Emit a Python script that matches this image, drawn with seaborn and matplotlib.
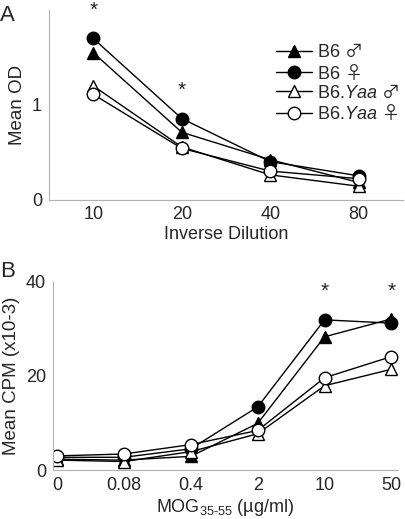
import numpy as np
import pandas as pd
import matplotlib.pyplot as plt
import seaborn as sns

sns.set_style("white")
plt.rcParams['font.family'] = ['Liberation Sans', 'DejaVu Sans']
plt.rcParams['mathtext.fontset'] = 'custom'
plt.rcParams['mathtext.rm'] = 'Liberation Sans'
plt.rcParams['mathtext.it'] = 'Liberation Sans:italic'
plt.rcParams['mathtext.sf'] = 'Noto Sans CJK JP'

# Panel A: antibody titer
dilutions = ['10', '20', '40', '80']
od_b6_male = [1.55, 0.71, 0.42, 0.18]
od_b6_female = [1.70, 0.855, 0.40, 0.25]
od_yaa_male = [1.20, 0.555, 0.26, 0.14]
od_yaa_female = [1.11, 0.54, 0.30, 0.22]
stars_a = [0, 1]

# Panel B: proliferation
mog_doses = ['0', '0.08', '0.4', '2', '10', '50']
cpm_b6_male = [2.3, 2.1, 2.9, 9.9, 28.3, 32.1]
cpm_b6_female = [2.7, 2.7, 4.5, 13.4, 31.9, 31.2]
cpm_yaa_male = [2.1, 1.8, 3.9, 7.7, 17.9, 21.4]
cpm_yaa_female = [3.0, 3.4, 5.4, 8.4, 19.6, 24.1]
stars_b = [4, 5]

labels = [r'B6 $\mathsf{♂}$', r'B6 $\mathsf{♀}$',
          r'B6.$\mathit{Yaa}$ $\mathsf{♂}$', r'B6.$\mathit{Yaa}$ $\mathsf{♀}$']
markers = ['^', 'o', '^', 'o']
faces = ['black', 'black', 'white', 'white']

fig = plt.figure(figsize=(4.05, 5.19), dpi=100)
ax_a = fig.add_axes([0.121, 0.6156, 0.874, 0.365])
ax_b = fig.add_axes([0.131, 0.0944, 0.852, 0.3628])


def draw(ax, cats, series, draw_legend=False):
    x = np.arange(len(cats))
    for vals, lab, m, fc in zip(series, labels, markers, faces):
        df = pd.DataFrame({'x': x, 'y': vals})
        sns.lineplot(data=df, x='x', y='y', ax=ax, color='black', lw=1.0,
                     marker=m, markersize=9, markerfacecolor=fc,
                     markeredgecolor='black', markeredgewidth=1.0,
                     label=lab if draw_legend else None, legend=False)
    ax.set_xticks(x)
    ax.set_xticklabels(cats)
    for s in ['top', 'right']:
        ax.spines[s].set_visible(False)
    for s in ['left', 'bottom']:
        ax.spines[s].set_color('#b0b0b0')
        ax.spines[s].set_linewidth(0.8)
    ax.tick_params(axis='y', length=3, color='#b0b0b0', labelsize=13, pad=2)
    ax.tick_params(axis='x', length=0, labelsize=13, pad=5)


draw(ax_a, dilutions, [od_b6_male, od_b6_female, od_yaa_male, od_yaa_female], True)
ax_a.set_xlim(-0.5, 3.5)
ax_a.set_ylim(0, 2)
ax_a.set_yticks([0, 1, 2])
ax_a.set_yticklabels(['0', '1', ''])
ax_a.set_xlabel('Inverse Dilution', fontsize=13, labelpad=2)
ax_a.set_ylabel('Mean OD', fontsize=13.5, labelpad=4)
for i in stars_a:
    top = max(od_b6_male[i], od_b6_female[i])
    ax_a.text(i, top + 0.3, '*', ha='center', va='center', fontsize=15, clip_on=False)
ax_a.legend(loc='upper left', bbox_to_anchor=(0.62, 0.86), frameon=False,
            fontsize=13, handlelength=2.0, handletextpad=0.3,
            labelspacing=0.1, borderaxespad=0)

draw(ax_b, mog_doses, [cpm_b6_male, cpm_b6_female, cpm_yaa_male, cpm_yaa_female])
ax_b.set_xlim(-0.06, 5.1)
ax_b.set_ylim(0, 40)
ax_b.set_yticks([0, 20, 40])
ax_b.set_xlabel(r'MOG$_{\text{35-55}}$ (µg/ml)', fontsize=13, labelpad=2)
ax_b.set_ylabel('Mean CPM (x10-3)', fontsize=13.5, labelpad=4)
for i in stars_b:
    ax_b.text(i, 38.0, '*', ha='center', va='center', fontsize=15, clip_on=False)

fig.text(0.0, 0.99, 'A', fontsize=16, va='top', ha='left')
fig.text(0.0, 0.497, 'B', fontsize=16, va='top', ha='left')

fig.savefig('out.png', dpi=100)
